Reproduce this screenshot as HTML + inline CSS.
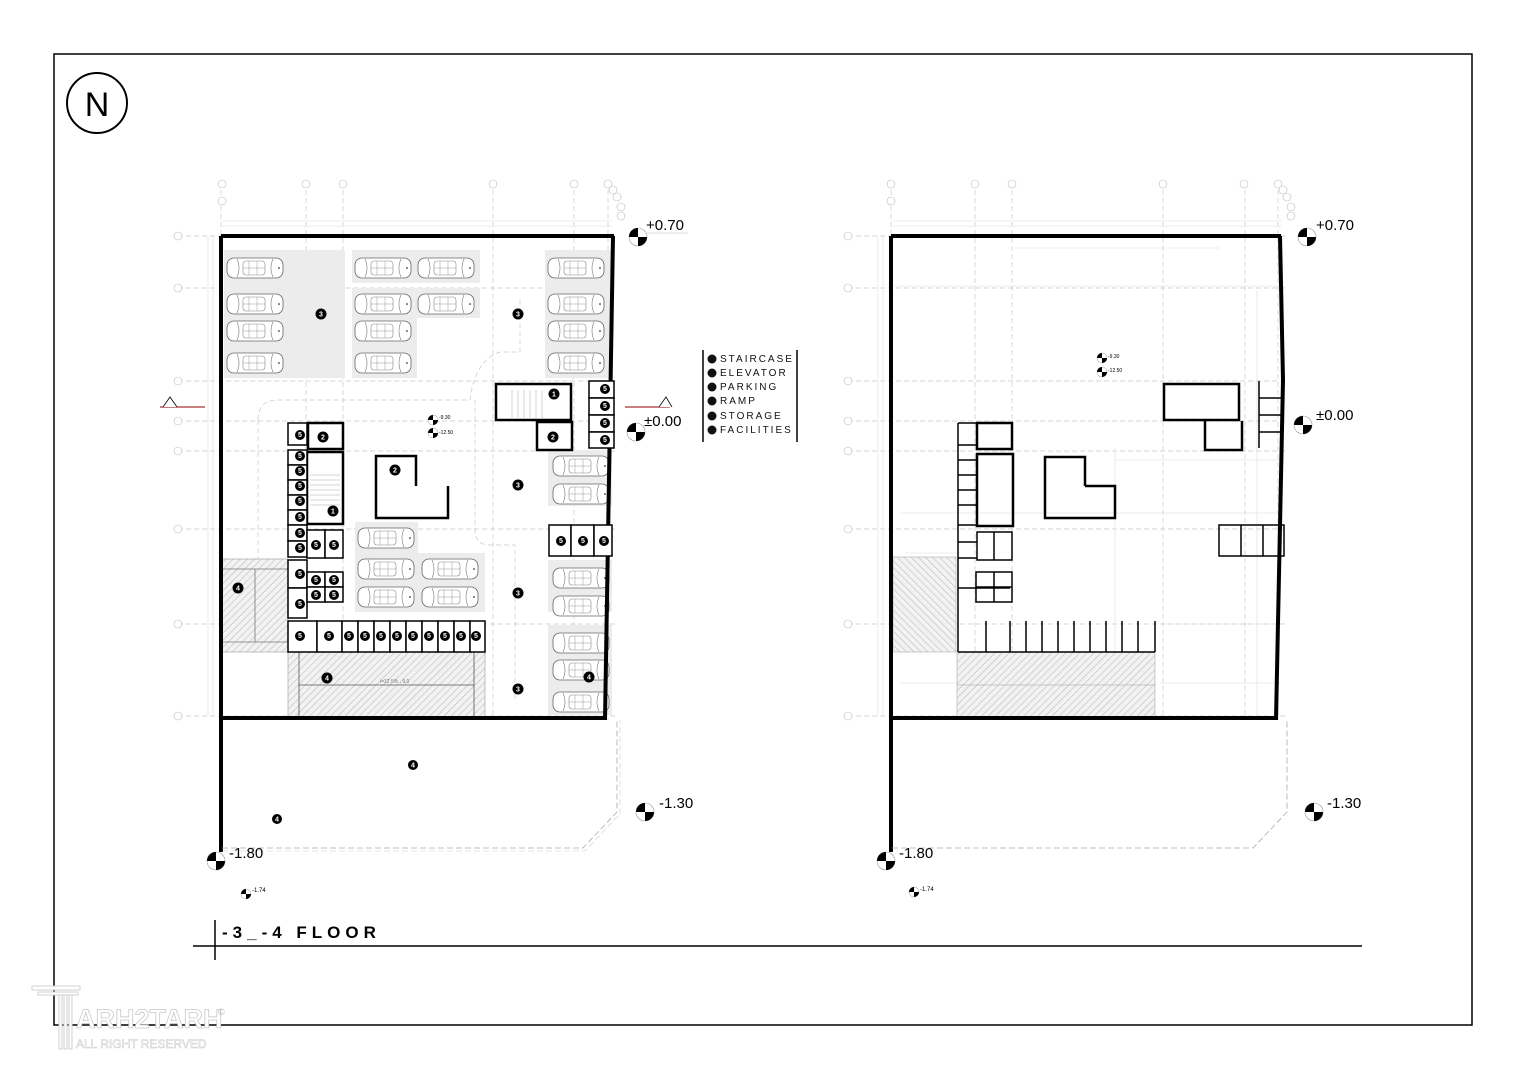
<!DOCTYPE html>
<html><head><meta charset="utf-8"><style>
html,body{margin:0;padding:0;background:#fff;}
svg{display:block;}
text{font-family:"Liberation Sans",sans-serif;}
.g{stroke:#c8c8c8;stroke-width:0.7;stroke-dasharray:5 3;fill:none;}
.w{stroke:#000;fill:none;}
.n{font-size:7px;font-weight:bold;fill:#fff;text-anchor:middle;}
.dim{stroke:#ddd;stroke-width:0.6;fill:none;}
</style></head><body>
<svg width="1527" height="1080" viewBox="0 0 1527 1080" xmlns="http://www.w3.org/2000/svg">
<defs>
<pattern id="hatch" width="5" height="5" patternUnits="userSpaceOnUse" patternTransform="rotate(45)">
<rect width="5" height="5" fill="#f2f2f2"/><line x1="0" y1="0" x2="0" y2="5" stroke="#999" stroke-width="0.7"/></pattern>
<pattern id="hatch2" width="5" height="5" patternUnits="userSpaceOnUse" patternTransform="rotate(-45)">
<rect width="5" height="5" fill="#f2f2f2"/><line x1="0" y1="0" x2="0" y2="5" stroke="#999" stroke-width="0.7"/></pattern>
<g id="car">
<rect x="0" y="1" width="56" height="20" rx="7" fill="#fff" stroke="#666" stroke-width="0.8"/>
<path d="M10 2 Q14 11 10 20 M46 2 Q42 11 46 20" fill="none" stroke="#777" stroke-width="0.6"/>
<rect x="16" y="4" width="22" height="14" rx="3" fill="none" stroke="#888" stroke-width="0.6"/>
<line x1="22" y1="4" x2="22" y2="18" stroke="#999" stroke-width="0.5"/>
<line x1="30" y1="4" x2="30" y2="18" stroke="#999" stroke-width="0.5"/>
<line x1="16" y1="11" x2="38" y2="11" stroke="#999" stroke-width="0.5"/>
<circle cx="52" cy="11" r="0.8" fill="#000"/>
</g>
<g id="el"><circle r="9" fill="#fff" stroke="#999" stroke-width="0.6"/><path d="M0 0 L0 -9 A9 9 0 0 0 -9 0 Z M0 0 L0 9 A9 9 0 0 0 9 0 Z" fill="#000"/></g>
<g id="els"><circle r="5" fill="#fff" stroke="#999" stroke-width="0.5"/><path d="M0 0 L0 -5 A5 5 0 0 0 -5 0 Z M0 0 L0 5 A5 5 0 0 0 5 0 Z" fill="#000"/></g>
</defs>

<rect x="54" y="54" width="1418" height="971" fill="none" stroke="#000" stroke-width="1.5"/>
<circle cx="97" cy="103" r="30" fill="none" stroke="#000" stroke-width="2"/>
<text x="97" y="116" font-size="34" text-anchor="middle" fill="#000">N</text>

<!-- ============ LEFT PLAN ============ -->
<g>
<g class="g">
<line x1="221" y1="190" x2="221" y2="860"/><line x1="306" y1="190" x2="306" y2="720"/><line x1="343" y1="190" x2="343" y2="720"/>
<line x1="493" y1="190" x2="493" y2="720"/><line x1="574" y1="190" x2="574" y2="720"/><line x1="608" y1="190" x2="608" y2="720"/>
<line x1="178" y1="236" x2="615" y2="236"/><line x1="178" y1="288" x2="615" y2="288"/><line x1="178" y1="381" x2="615" y2="381"/>
<line x1="178" y1="421" x2="615" y2="421"/><line x1="178" y1="451" x2="615" y2="451"/><line x1="178" y1="529" x2="615" y2="529"/>
<line x1="178" y1="624" x2="615" y2="624"/><line x1="178" y1="716" x2="615" y2="716"/>
</g>
<g fill="#fff" stroke="#bbb" stroke-width="0.6">
<circle cx="222" cy="184" r="4"/><circle cx="306" cy="184" r="4"/><circle cx="343" cy="184" r="4"/><circle cx="493" cy="184" r="4"/><circle cx="574" cy="184" r="4"/><circle cx="608" cy="184" r="4"/><circle cx="222" cy="201" r="4"/>
<circle cx="613" cy="190" r="4"/><circle cx="617" cy="197" r="4"/><circle cx="621" cy="207" r="4"/><circle cx="621" cy="216" r="4"/>
<circle cx="178" cy="236" r="4"/><circle cx="178" cy="288" r="4"/><circle cx="178" cy="381" r="4"/><circle cx="178" cy="421" r="4"/><circle cx="178" cy="451" r="4"/><circle cx="178" cy="529" r="4"/><circle cx="178" cy="624" r="4"/><circle cx="178" cy="716" r="4"/>
</g>
<line class="dim" x1="222" y1="221" x2="612" y2="221"/><line class="dim" x1="222" y1="226" x2="612" y2="226"/>
<line class="dim" x1="208" y1="236" x2="208" y2="716"/><line class="dim" x1="213" y1="236" x2="213" y2="716"/>

<g fill="#ececec">
<rect x="224" y="250" width="121" height="128"/>
<rect x="352" y="250" width="128" height="33"/><rect x="352" y="288" width="128" height="30"/><rect x="352" y="318" width="65" height="60"/>
<rect x="545" y="250" width="67" height="128"/>
<rect x="548" y="450" width="64" height="56"/>
<rect x="355" y="522" width="63" height="31"/><rect x="355" y="553" width="130" height="59"/>
<rect x="548" y="560" width="64" height="52"/><rect x="548" y="625" width="64" height="90"/>
</g>
<g>
<use href="#car" x="227" y="257"/><use href="#car" x="355" y="257"/><use href="#car" x="418" y="257"/><use href="#car" x="548" y="257"/>
<use href="#car" x="227" y="293"/><use href="#car" x="355" y="293"/><use href="#car" x="418" y="293"/><use href="#car" x="548" y="293"/>
<use href="#car" x="227" y="320"/><use href="#car" x="355" y="320"/><use href="#car" x="548" y="320"/>
<use href="#car" x="227" y="352"/><use href="#car" x="355" y="352"/><use href="#car" x="548" y="352"/>
<use href="#car" x="553" y="455"/><use href="#car" x="553" y="483"/>
<use href="#car" x="358" y="527"/><use href="#car" x="358" y="558"/><use href="#car" x="422" y="558"/><use href="#car" x="358" y="586"/><use href="#car" x="422" y="586"/>
<use href="#car" x="553" y="567"/><use href="#car" x="553" y="595"/><use href="#car" x="553" y="632"/><use href="#car" x="553" y="659"/><use href="#car" x="553" y="691"/>
</g>
<path d="M258 420 Q258 400 278 400 L470 400 Q475 360 500 352 L520 352 L520 300" class="g"/>
<path d="M258 420 L258 560" class="g"/>
<path d="M475 400 Q475 404 475 530 Q475 545 490 545 L515 545 L515 700" class="g"/>

<rect x="222" y="559" width="66" height="93" fill="url(#hatch)" stroke="#999" stroke-width="0.6"/>
<line x1="255" y1="569" x2="255" y2="642" stroke="#777" stroke-width="0.8"/>
<line x1="222" y1="569" x2="288" y2="569" stroke="#777" stroke-width="0.8"/><line x1="222" y1="642" x2="288" y2="642" stroke="#777" stroke-width="0.8"/>
<rect x="288" y="652" width="197" height="66" fill="url(#hatch)" stroke="#999" stroke-width="0.6"/>
<line x1="299" y1="652" x2="299" y2="718" stroke="#555" stroke-width="0.8"/><line x1="474" y1="652" x2="474" y2="718" stroke="#555" stroke-width="0.8"/>
<line x1="299" y1="685" x2="474" y2="685" stroke="#555" stroke-width="0.8"/>
<text x="380" y="683" font-size="5" fill="#777">i=12.5% , 9.0</text>

<g class="w" stroke-width="4">
<line x1="221" y1="236" x2="614" y2="236"/>
<line x1="221" y1="236" x2="221" y2="852"/>
<line x1="613" y1="236" x2="605" y2="720"/>
<line x1="221" y1="718" x2="606" y2="718"/>
</g>
<path d="M222 848 L583 848 L617 812 L617 720" fill="none" stroke="#aaa" stroke-width="0.8" stroke-dasharray="6 3"/>
<path d="M222 851 L585 851 L620 814 L620 720" fill="none" stroke="#ccc" stroke-width="0.6" stroke-dasharray="6 3"/>

<g class="w" stroke-width="2.5" fill="#fff">
<rect x="496" y="384" width="75" height="36"/>
<rect x="537" y="422" width="35" height="28"/>
<rect x="308" y="423" width="35" height="26"/>
<rect x="307" y="452" width="36" height="72"/>
<path d="M376 486 L376 456 L416 456 L416 486 M376 486 L376 518 L448 518 L448 486"/>
</g>
<g stroke="#aaa" stroke-width="0.5">
<line x1="512" y1="390" x2="512" y2="418"/><line x1="518" y1="390" x2="518" y2="418"/><line x1="524" y1="390" x2="524" y2="418"/><line x1="530" y1="390" x2="530" y2="418"/><line x1="536" y1="390" x2="536" y2="418"/><line x1="542" y1="390" x2="542" y2="418"/>
<line x1="310" y1="475" x2="340" y2="475"/><line x1="310" y1="480" x2="340" y2="480"/><line x1="310" y1="485" x2="340" y2="485"/><line x1="310" y1="490" x2="340" y2="490"/><line x1="310" y1="495" x2="340" y2="495"/><line x1="310" y1="500" x2="340" y2="500"/><line x1="310" y1="505" x2="340" y2="505"/>
</g>
<g stroke="#000" stroke-width="1.5" fill="#fff">
<rect x="589" y="381" width="25" height="17"/><rect x="589" y="398" width="25" height="17"/><rect x="589" y="415" width="25" height="17"/><rect x="589" y="432" width="25" height="16"/>
<rect x="288" y="423" width="19" height="22"/><rect x="288" y="450" width="19" height="15"/><rect x="288" y="465" width="19" height="15"/><rect x="288" y="480" width="19" height="15"/><rect x="288" y="495" width="19" height="15"/><rect x="288" y="510" width="19" height="15"/>
<rect x="288" y="525" width="19" height="16"/><rect x="288" y="541" width="19" height="16"/>
<rect x="288" y="560" width="19" height="28"/><rect x="288" y="588" width="19" height="30"/>
<rect x="307" y="530" width="18" height="28"/><rect x="325" y="530" width="18" height="28"/>
<rect x="307" y="572" width="18" height="15"/><rect x="325" y="572" width="18" height="15"/><rect x="307" y="587" width="18" height="15"/><rect x="325" y="587" width="18" height="15"/>
<rect x="288" y="621" width="29" height="31"/><rect x="317" y="621" width="25" height="31"/>
<rect x="342" y="621" width="16" height="31"/><rect x="358" y="621" width="16" height="31"/><rect x="374" y="621" width="16" height="31"/><rect x="390" y="621" width="16" height="31"/><rect x="406" y="621" width="16" height="31"/><rect x="422" y="621" width="16" height="31"/><rect x="438" y="621" width="16" height="31"/><rect x="454" y="621" width="16" height="31"/><rect x="470" y="621" width="15" height="31"/>
<rect x="549" y="525" width="22" height="31"/><rect x="571" y="525" width="23" height="31"/><rect x="594" y="525" width="18" height="31"/>
</g>
<g>
<circle cx="321" cy="314" r="5.5"/><text class="n" x="321" y="316.5">3</text>
<circle cx="518" cy="314" r="5.5"/><text class="n" x="518" y="316.5">3</text>
<circle cx="554" cy="394" r="5.5"/><text class="n" x="554" y="396.5">1</text>
<circle cx="553" cy="437" r="5.5"/><text class="n" x="553" y="439.5">2</text>
<circle cx="323" cy="437" r="5.5"/><text class="n" x="323" y="439.5">2</text>
<circle cx="395" cy="470" r="5.5"/><text class="n" x="395" y="472.5">2</text>
<circle cx="333" cy="511" r="5.5"/><text class="n" x="333" y="513.5">1</text>
<circle cx="518" cy="485" r="5.5"/><text class="n" x="518" y="487.5">3</text>
<circle cx="518" cy="593" r="5.5"/><text class="n" x="518" y="595.5">3</text>
<circle cx="518" cy="689" r="5.5"/><text class="n" x="518" y="691.5">3</text>
<circle cx="238" cy="588" r="5.5"/><text class="n" x="238" y="590.5">4</text>
<circle cx="327" cy="678" r="5.5"/><text class="n" x="327" y="680.5">4</text>
<circle cx="589" cy="677" r="5.5"/><text class="n" x="589" y="679.5">4</text>
<circle cx="413" cy="765" r="5"/><text class="n" x="413" y="767.5">4</text>
<circle cx="277" cy="819" r="5"/><text class="n" x="277" y="821.5">4</text>
</g>
<g>
<circle cx="605" cy="389" r="5"/><circle cx="605" cy="406" r="5"/><circle cx="605" cy="423" r="5"/><circle cx="605" cy="440" r="5"/>
<circle cx="300" cy="435" r="5"/><circle cx="300" cy="456" r="5"/><circle cx="300" cy="471" r="5"/><circle cx="300" cy="486" r="5"/><circle cx="300" cy="501" r="5"/><circle cx="300" cy="517" r="5"/><circle cx="300" cy="533" r="5"/><circle cx="300" cy="548" r="5"/><circle cx="300" cy="574" r="5"/><circle cx="300" cy="604" r="5"/>
<circle cx="316" cy="545" r="5"/><circle cx="334" cy="545" r="5"/><circle cx="316" cy="580" r="5"/><circle cx="334" cy="580" r="5"/><circle cx="316" cy="595" r="5"/><circle cx="334" cy="595" r="5"/>
<circle cx="300" cy="636" r="5"/><circle cx="329" cy="636" r="5"/><circle cx="349" cy="636" r="5"/><circle cx="365" cy="636" r="5"/><circle cx="381" cy="636" r="5"/><circle cx="397" cy="636" r="5"/><circle cx="413" cy="636" r="5"/><circle cx="429" cy="636" r="5"/><circle cx="445" cy="636" r="5"/><circle cx="461" cy="636" r="5"/><circle cx="476" cy="636" r="5"/>
<circle cx="561" cy="541" r="5"/><circle cx="583" cy="541" r="5"/><circle cx="604" cy="541" r="5"/>
</g>
<g class="n" font-size="6">
<text x="605" y="391">5</text><text x="605" y="408">5</text><text x="605" y="425">5</text><text x="605" y="442">5</text>
<text x="300" y="437">5</text><text x="300" y="458">5</text><text x="300" y="473">5</text><text x="300" y="488">5</text><text x="300" y="503">5</text><text x="300" y="519">5</text><text x="300" y="535">5</text><text x="300" y="550">5</text><text x="300" y="576">5</text><text x="300" y="606">5</text>
<text x="316" y="547">5</text><text x="334" y="547">5</text><text x="316" y="582">5</text><text x="334" y="582">5</text><text x="316" y="597">5</text><text x="334" y="597">5</text>
<text x="300" y="638">5</text><text x="329" y="638">5</text><text x="349" y="638">5</text><text x="365" y="638">5</text><text x="381" y="638">5</text><text x="397" y="638">5</text><text x="413" y="638">5</text><text x="429" y="638">5</text><text x="445" y="638">5</text><text x="461" y="638">5</text><text x="476" y="638">5</text>
<text x="561" y="543">5</text><text x="583" y="543">5</text><text x="604" y="543">5</text>
</g>
<use href="#els" x="433" y="420"/><text x="439" y="419" font-size="5">-9.30</text>
<use href="#els" x="433" y="433"/><text x="439" y="434" font-size="5">-12.50</text>
</g>

<use href="#el" x="638" y="237"/><text x="646" y="230" font-size="15">+0.70</text><line x1="646" y1="233" x2="688" y2="233" stroke="#ddd"/>
<use href="#el" x="636" y="432"/><text x="644" y="426" font-size="15">±0.00</text>
<use href="#el" x="645" y="812"/><text x="659" y="808" font-size="15">-1.30</text>
<use href="#el" x="216" y="861"/><text x="229" y="858" font-size="15">-1.80</text>
<use href="#els" x="246" y="894"/><text x="252" y="892" font-size="6">-1.74</text>
<line x1="160" y1="407" x2="205" y2="407" stroke="#a33" stroke-width="1.2"/><path d="M163 407 L170 397 L177 407" fill="#fff" stroke="#000" stroke-width="0.8"/>
<line x1="625" y1="407" x2="670" y2="407" stroke="#a33" stroke-width="1.2"/><path d="M659 407 L666 397 L672 407" fill="#fff" stroke="#000" stroke-width="0.8"/>

<line x1="703" y1="350" x2="703" y2="442" stroke="#000" stroke-width="1.5"/>
<line x1="797" y1="350" x2="797" y2="442" stroke="#000" stroke-width="1.5"/>
<g font-size="10" letter-spacing="2" fill="#111">
<circle cx="712" cy="359" r="4.5"/><text x="720" y="362">STAIRCASE</text>
<circle cx="712" cy="373" r="4.5"/><text x="720" y="376">ELEVATOR</text>
<circle cx="712" cy="387" r="4.5"/><text x="720" y="390">PARKING</text>
<circle cx="712" cy="401" r="4.5"/><text x="720" y="404">RAMP</text>
<circle cx="712" cy="416" r="4.5"/><text x="720" y="419">STORAGE</text>
<circle cx="712" cy="430" r="4.5"/><text x="720" y="433">FACILITIES</text>
</g>

<!-- ============ RIGHT PLAN ============ -->
<g>
<g class="g">
<line x1="891" y1="190" x2="891" y2="860"/><line x1="975" y1="190" x2="975" y2="720"/><line x1="1012" y1="190" x2="1012" y2="720"/>
<line x1="1163" y1="190" x2="1163" y2="720"/><line x1="1245" y1="190" x2="1245" y2="720"/><line x1="1278" y1="190" x2="1278" y2="720"/>
<line x1="848" y1="236" x2="1285" y2="236"/><line x1="848" y1="288" x2="1285" y2="288"/><line x1="848" y1="381" x2="1285" y2="381"/>
<line x1="848" y1="421" x2="1285" y2="421"/><line x1="848" y1="451" x2="1285" y2="451"/><line x1="848" y1="529" x2="1285" y2="529"/>
<line x1="848" y1="624" x2="1285" y2="624"/><line x1="848" y1="716" x2="1285" y2="716"/>
</g>
<g fill="#fff" stroke="#bbb" stroke-width="0.6">
<circle cx="891" cy="184" r="4"/><circle cx="975" cy="184" r="4"/><circle cx="1012" cy="184" r="4"/><circle cx="1163" cy="184" r="4"/><circle cx="1244" cy="184" r="4"/><circle cx="1278" cy="184" r="4"/><circle cx="891" cy="201" r="4"/>
<circle cx="1283" cy="190" r="4"/><circle cx="1287" cy="197" r="4"/><circle cx="1291" cy="207" r="4"/><circle cx="1291" cy="216" r="4"/>
<circle cx="848" cy="236" r="4"/><circle cx="848" cy="288" r="4"/><circle cx="848" cy="381" r="4"/><circle cx="848" cy="421" r="4"/><circle cx="848" cy="451" r="4"/><circle cx="848" cy="529" r="4"/><circle cx="848" cy="624" r="4"/><circle cx="848" cy="716" r="4"/>
</g>
<g class="dim">
<line x1="892" y1="221" x2="1282" y2="221"/><line x1="892" y1="226" x2="1282" y2="226"/>
<line x1="878" y1="236" x2="878" y2="716"/><line x1="883" y1="236" x2="883" y2="716"/>
<line x1="1015" y1="248" x2="1220" y2="248"/><line x1="895" y1="286" x2="1280" y2="286"/>
<line x1="900" y1="513" x2="1280" y2="513"/><line x1="905" y1="553" x2="960" y2="553"/>
<line x1="1115" y1="460" x2="1282" y2="460"/><line x1="1160" y1="624" x2="1280" y2="624"/>
<line x1="900" y1="683" x2="1155" y2="683"/><line x1="1160" y1="683" x2="1280" y2="683"/>
<line x1="1115" y1="448" x2="1115" y2="715"/><line x1="1257" y1="290" x2="1257" y2="715"/>
</g>
<rect x="893" y="557" width="63" height="95" fill="url(#hatch2)" stroke="#aaa" stroke-width="0.6"/>
<rect x="957" y="652" width="198" height="66" fill="url(#hatch)" stroke="#aaa" stroke-width="0.6"/>
<line x1="957" y1="685" x2="1155" y2="685" stroke="#999" stroke-width="0.6"/>
<g class="w" stroke-width="4">
<line x1="891" y1="236" x2="1281" y2="236"/>
<line x1="891" y1="236" x2="891" y2="852"/>
<line x1="1280" y1="236" x2="1283" y2="380"/><line x1="1283" y1="380" x2="1276" y2="720"/>
<line x1="891" y1="718" x2="1277" y2="718"/>
</g>
<path d="M892 848 L1253 848 L1287 812 L1287 720" fill="none" stroke="#aaa" stroke-width="0.8" stroke-dasharray="6 3"/>
<g class="w" stroke-width="2.5">
<rect x="1164" y="384" width="75" height="36"/>
<path d="M1205 421 L1205 450 L1242 450 L1242 421"/>
<rect x="977" y="423" width="35" height="26"/>
<rect x="977" y="454" width="36" height="72"/>
<path d="M1045 513 L1045 457 L1085 457 L1085 486 M1085 486 L1115 486 L1115 518 L1045 518 L1045 513"/>
</g>
<g stroke="#000" stroke-width="1.5" fill="none">
<line x1="958" y1="423" x2="958" y2="652"/>
<line x1="958" y1="423" x2="977" y2="423"/>
<line x1="958" y1="445" x2="977" y2="445"/><line x1="958" y1="460" x2="977" y2="460"/><line x1="958" y1="475" x2="977" y2="475"/><line x1="958" y1="490" x2="977" y2="490"/><line x1="958" y1="505" x2="977" y2="505"/><line x1="958" y1="525" x2="977" y2="525"/><line x1="958" y1="542" x2="977" y2="542"/><line x1="958" y1="558" x2="977" y2="558"/><line x1="958" y1="588" x2="1010" y2="588"/>
<rect x="977" y="532" width="35" height="28"/><line x1="994" y1="532" x2="994" y2="560"/>
<rect x="976" y="572" width="36" height="30"/><line x1="994" y1="572" x2="994" y2="602"/><line x1="976" y1="587" x2="1012" y2="587"/>
<line x1="958" y1="652" x2="1155" y2="652"/><line x1="1155" y1="621" x2="1155" y2="652"/>
<line x1="986" y1="621" x2="986" y2="652"/><line x1="1010" y1="621" x2="1010" y2="652"/><line x1="1026" y1="621" x2="1026" y2="652"/><line x1="1042" y1="621" x2="1042" y2="652"/><line x1="1058" y1="621" x2="1058" y2="652"/><line x1="1074" y1="621" x2="1074" y2="652"/><line x1="1090" y1="621" x2="1090" y2="652"/><line x1="1106" y1="621" x2="1106" y2="652"/><line x1="1122" y1="621" x2="1122" y2="652"/><line x1="1138" y1="621" x2="1138" y2="652"/>
<rect x="1219" y="525" width="65" height="31"/><line x1="1241" y1="525" x2="1241" y2="556"/><line x1="1263" y1="525" x2="1263" y2="556"/>
<line x1="1259" y1="381" x2="1259" y2="448"/><line x1="1259" y1="398" x2="1283" y2="398"/><line x1="1259" y1="415" x2="1283" y2="415"/><line x1="1259" y1="432" x2="1283" y2="432"/>
</g>
<use href="#els" x="1102" y="358"/><text x="1108" y="358" font-size="5">-9.30</text>
<use href="#els" x="1102" y="372"/><text x="1108" y="372" font-size="5">-12.50</text>
</g>
<use href="#el" x="1307" y="237"/><text x="1316" y="230" font-size="15">+0.70</text>
<use href="#el" x="1303" y="425"/><text x="1316" y="420" font-size="15">±0.00</text>
<use href="#el" x="1314" y="812"/><text x="1327" y="808" font-size="15">-1.30</text>
<use href="#el" x="886" y="861"/><text x="899" y="858" font-size="15">-1.80</text>
<use href="#els" x="914" y="892"/><text x="920" y="891" font-size="6">-1.74</text>

<line x1="193" y1="946" x2="1362" y2="946" stroke="#000" stroke-width="1.5"/>
<line x1="215" y1="920" x2="215" y2="960" stroke="#000" stroke-width="1.5"/>
<text x="222" y="938" font-size="17" font-weight="bold" letter-spacing="5">-3_-4 FLOOR</text>

<g fill="#fff" stroke="#d0d0d0" stroke-width="1">
<rect x="32" y="986" width="48" height="4"/><rect x="38" y="992" width="40" height="3"/>
<rect x="59" y="995" width="3" height="54"/><rect x="64" y="995" width="3" height="54"/><rect x="69" y="995" width="3" height="54"/>
</g>
<text x="76" y="1028" font-size="27" font-weight="bold" fill="#fff" stroke="#c8c8c8" stroke-width="0.8">ARH2TARH</text>
<text x="76" y="1048" font-size="12" fill="#fff" stroke="#c8c8c8" stroke-width="0.5">ALL RIGHT RESERVED</text>
<text x="218" y="1015" font-size="9" fill="#bbb">©</text>
</svg>
</body></html>
